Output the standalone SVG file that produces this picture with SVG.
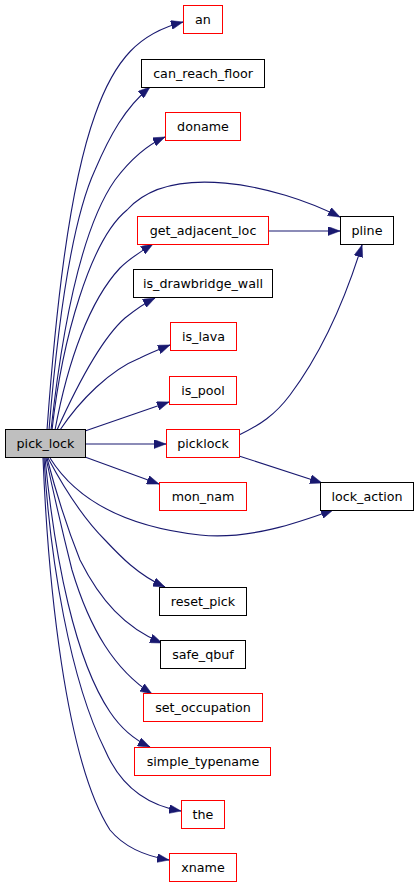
<svg xmlns="http://www.w3.org/2000/svg" width="419" height="888" viewBox="0 0 419 888">
<style>
.n rect{fill:#fff;stroke:#000;stroke-width:1}
.n.r rect{stroke:#ff0000}
.n text{font-family:"DejaVu Sans",sans-serif;font-size:12.7px;text-anchor:middle;fill:#000}
#edges path{fill:none;stroke:#191970;stroke-width:1.1;marker-end:url(#ah)}
</style>
<defs>
<marker id="ah" markerUnits="userSpaceOnUse" markerWidth="12" markerHeight="9" refX="12" refY="4.5" orient="auto">
<path d="M0,0 L12,4.5 L0,9 z" fill="#191970" stroke="#191970" stroke-width="0.5"/>
</marker>
</defs>
<rect width="419" height="888" fill="#fff"/>
<g id="edges">
<path d="M47,430 C55,320 68,190 95,115 C115,58 140,33 183,22"/>
<path d="M49,430 C58,320 72,220 95,170 C110,135 125,108 150,87"/>
<path d="M51,430 C62,330 80,230 115,180 C130,160 145,146 165,137"/>
<path d="M52,430 C62,340 90,240 127,210 C170,162 275,184 340,217"/>
<path d="M55,430 C68,360 90,300 120,268 C130,258 140,252 153,244"/>
<path d="M268,231 L340,231"/>
<path d="M57,430 C75,390 100,340 125,318 C135,310 145,303 155,298"/>
<path d="M60,430 C80,400 110,370 140,358 C150,353 160,349 170,345"/>
<path d="M85,431 L169,402"/>
<path d="M85,444 L166,444"/>
<path d="M85,457 L159,484"/>
<path d="M50,458 C70,490 110,525 200,535 C250,540 300,522 333,510"/>
<path d="M239,456 L322,483"/>
<path d="M239,435 C260,425 275,415 290,395 C320,355 345,300 362,245"/>
<path d="M48,458 C65,490 85,520 105,540 C120,556 138,575 165,587"/>
<path d="M47,458 C58,500 68,530 80,560 C100,600 125,628 162,643"/>
<path d="M46,458 C55,500 62,530 72,570 C90,630 115,670 152,694"/>
<path d="M45,458 C55,560 75,660 110,712 C122,730 135,740 150,747"/>
<path d="M44,458 C50,560 70,680 105,750 C120,785 145,805 181,811"/>
<path d="M43,458 C48,580 65,760 110,830 C125,848 145,856 169,860"/>
</g>
<g id="an" class="n r"><rect x="183.5" y="5.5" width="39" height="28"/><text x="203" y="24">an</text></g>
<g id="can_reach_floor" class="n"><rect x="141.5" y="59.5" width="123" height="28"/><text x="203" y="78">can_reach_floor</text></g>
<g id="doname" class="n r"><rect x="165.5" y="112.5" width="75" height="28"/><text x="203" y="131">doname</text></g>
<g id="get_adjacent_loc" class="n r"><rect x="137.5" y="216.5" width="131" height="28"/><text x="203" y="235">get_adjacent_loc</text></g>
<g id="pline" class="n"><rect x="340.5" y="216.5" width="53" height="28"/><text x="367" y="235">pline</text></g>
<g id="is_drawbridge_wall" class="n"><rect x="133.5" y="269.5" width="139" height="28"/><text x="203" y="288">is_drawbridge_wall</text></g>
<g id="is_lava" class="n r"><rect x="170.5" y="322.5" width="66" height="28"/><text x="203.5" y="341">is_lava</text></g>
<g id="is_pool" class="n r"><rect x="169.5" y="376.5" width="67" height="28"/><text x="203" y="395">is_pool</text></g>
<g id="pick_lock" class="n"><rect x="5.5" y="429.5" width="80" height="28" style="fill:#bfbfbf"/><text x="45.5" y="448">pick_lock</text></g>
<g id="picklock" class="n r"><rect x="166.5" y="429.5" width="73" height="28"/><text x="203" y="448">picklock</text></g>
<g id="mon_nam" class="n r"><rect x="159.5" y="482.5" width="87" height="28"/><text x="203" y="501">mon_nam</text></g>
<g id="lock_action" class="n"><rect x="320.5" y="482.5" width="93" height="28"/><text x="367" y="501">lock_action</text></g>
<g id="reset_pick" class="n"><rect x="159.5" y="587.5" width="87" height="28"/><text x="203" y="606">reset_pick</text></g>
<g id="safe_qbuf" class="n"><rect x="160.5" y="640.5" width="85" height="28"/><text x="203" y="659">safe_qbuf</text></g>
<g id="set_occupation" class="n r"><rect x="143.5" y="693.5" width="119" height="28"/><text x="203" y="712">set_occupation</text></g>
<g id="simple_typename" class="n r"><rect x="134.5" y="747.5" width="136" height="28"/><text x="203" y="766">simple_typename</text></g>
<g id="the" class="n r"><rect x="181.5" y="800.5" width="43" height="28"/><text x="203" y="819">the</text></g>
<g id="xname" class="n r"><rect x="169.5" y="853.5" width="67" height="28"/><text x="203" y="872">xname</text></g>
</svg>
